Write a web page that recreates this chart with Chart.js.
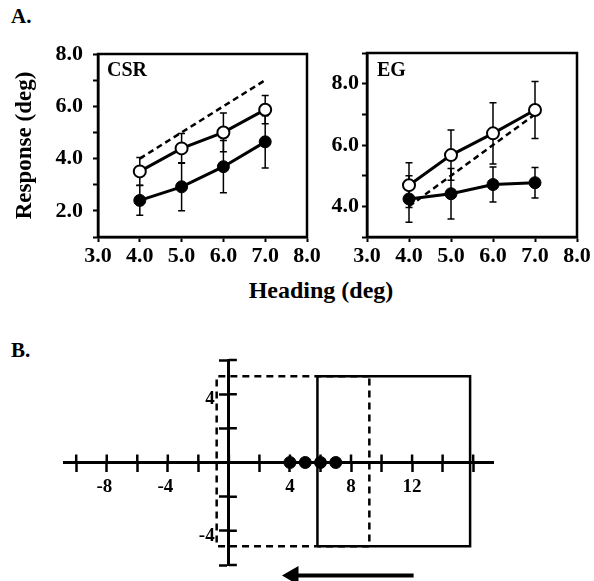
<!DOCTYPE html>
<html>
<head>
<meta charset="utf-8">
<script src="https://cdn.jsdelivr.net/npm/chart.js@4.4.0/dist/chart.umd.min.js"></script>
<style>
body{margin:0;background:#fff;}
#page{position:relative;width:594px;height:581px;overflow:hidden;font-family:"Liberation Serif",serif;font-weight:bold;color:#000;}
.lbl{position:absolute;line-height:1;white-space:nowrap;}
canvas{position:absolute;}
</style>
</head>
<body>
<div id="page">
  <div class="lbl" style="left:11px;top:6px;font-size:21px">A.</div>
  <div class="lbl" style="left:11px;top:340px;font-size:21px">B.</div>
  <div class="lbl" style="left:321px;top:278px;font-size:24px;transform:translateX(-50%)">Heading (deg)</div>
  <canvas id="csr" width="330" height="290" style="left:0;top:0"></canvas>
  <canvas id="eg" width="294" height="290" style="left:300px;top:0"></canvas>
  <canvas id="pathB" width="594" height="281" style="left:0;top:300px"></canvas>
</div>
<script>
// panel A data
const headings = [4, 5, 6, 7];
const csrOpen = [3.51, 4.39, 5.0, 5.87];
const csrOpenErr = [0.53, 0.57, 0.74, 0.54];
const csrFilled = [2.4, 2.92, 3.69, 4.64];
const csrFilledErr = [0.57, 0.92, 1.0, 1.0];
const egOpen = [4.69, 5.67, 6.38, 7.14];
const egOpenErr = [0.73, 0.82, 1.0, 0.93];
const egFilled = [4.24, 4.41, 4.71, 4.77];
const egFilledErr = [0.76, 0.82, 0.57, 0.5];
const ideal = [4, 5, 6, 7];
const csrTicksY = [2, 4, 6, 8];
const egTicksY = [4, 6, 8];

// panel B data
const bTicksX = [-8, -4, 4, 8, 12];
const bTicksY = [4, -4];
const dotX = [4, 5, 6, 7];
const dotY = [0, 0, 0, 0];
const solidRectX = [5.8, 5.8, 15.8, 15.8, 5.8];
const solidRectY = [-4.9, 5.05, 5.05, -4.9, -4.9];
const dashRectX = [9.2, -0.8, -0.8, 9.2, 9.2];
const dashRectY = [5.05, 5.05, -4.9, -4.9, 5.05];
const arrowX = [12.1, 4.2];
const arrowY = [-6.62, -6.62];

Chart.defaults.font.family = '"Liberation Serif", serif';
Chart.defaults.font.weight = 'bold';
Chart.defaults.color = '#000';

function pts(xs, ys){
    return xs.map((x, i) => ({x: x, y: ys[i]}));
}

const errorBars = {
    id: 'errorBars',
    beforeDatasetsDraw(chart){
        const ctx = chart.ctx, sx = chart.scales.x, sy = chart.scales.y;
        ctx.save();
        ctx.strokeStyle = '#000';
        ctx.lineWidth = 1.5;
        chart.data.datasets.forEach(ds => {
            if(!ds.errors) return;
            ds.data.forEach((p, i) => {
                const x = sx.getPixelForValue(p.x);
                const y1 = sy.getPixelForValue(p.y - ds.errors[i]);
                const y2 = sy.getPixelForValue(p.y + ds.errors[i]);
                ctx.beginPath();
                ctx.moveTo(x, y1); ctx.lineTo(x, y2);
                ctx.moveTo(x - 3.5, y1); ctx.lineTo(x + 3.5, y1);
                ctx.moveTo(x - 3.5, y2); ctx.lineTo(x + 3.5, y2);
                ctx.stroke();
            });
        });
        ctx.restore();
    }
};

const frame = {
    id: 'frame',
    afterDraw(chart, args, opts){
        const ctx = chart.ctx, a = chart.chartArea;
        ctx.save();
        ctx.lineWidth = 2.5;
        ctx.strokeStyle = '#000';
        ctx.strokeRect(a.left, a.top, a.right - a.left, a.bottom - a.top);
        ctx.font = 'bold 20px "Liberation Serif"';
        ctx.fillStyle = '#000';
        ctx.fillText(opts.name, a.left + opts.dx, a.top + opts.dy);
        ctx.restore();
    }
};

// panel B ticks cross the axes: draw the inner half
const crossTicks = {
    id: 'crossTicks',
    afterDraw(chart){
        const ctx = chart.ctx, sx = chart.scales.x, sy = chart.scales.y;
        const axisY = sy.getPixelForValue(0), axisX = sx.getPixelForValue(0);
        ctx.save();
        ctx.lineWidth = 2.5;
        ctx.strokeStyle = '#000';
        ctx.beginPath();
        sx.ticks.forEach(t => {
            const px = sx.getPixelForValue(t.value);
            ctx.moveTo(px, axisY); ctx.lineTo(px, axisY - 8);
        });
        sy.ticks.forEach(t => {
            const py = sy.getPixelForValue(t.value);
            ctx.moveTo(axisX, py); ctx.lineTo(axisX + 8, py);
        });
        ctx.stroke();
        ctx.restore();
    }
};

function responseChart(id, name, open, openErr, filled, filledErr, yMin, yMax, yLabels, opt){
    const grid = {drawOnChartArea: false, tickLength: 5, tickWidth: 2, tickColor: '#000'};
    const border = {color: '#000', width: 2.5};
    return new Chart(document.getElementById(id), {
        type: 'line',
        data: {
            datasets: [{
                data: pts(headings, open),
                errors: openErr,
                borderColor: '#000', borderWidth: 3,
                pointRadius: 6, pointBackgroundColor: '#fff', pointBorderColor: '#000', pointBorderWidth: 2
            }, {
                data: pts(headings, filled),
                errors: filledErr,
                borderColor: '#000', borderWidth: 3,
                pointRadius: 6, pointBackgroundColor: '#000', pointBorderColor: '#000', pointBorderWidth: 1
            }, {
                data: pts(headings, ideal),
                borderColor: '#000', borderWidth: 2.5, borderDash: [6, 4],
                pointRadius: 0
            }]
        },
        options: {
            responsive: false,
            animation: false,
            events: [],
            layout: {padding: opt.padding},
            plugins: {
                legend: {display: false},
                tooltip: {enabled: false},
                frame: {name: name, dx: opt.nameDx, dy: opt.nameDy}
            },
            scales: {
                x: {
                    type: 'linear', min: 3, max: 8,
                    afterFit: s => { s.height = opt.xHeight; },
                    ticks: {stepSize: 1, autoSkip: false, maxRotation: 0, padding: 1,
                        font: {size: 22}, callback: v => v.toFixed(1)},
                    grid: grid, border: border
                },
                y: {
                    min: yMin, max: yMax,
                    afterFit: s => { s.width = opt.yWidth; },
                    ticks: {stepSize: 1, autoSkip: false, padding: opt.yPad,
                        font: {size: 22}, callback: v => yLabels.includes(v) ? v.toFixed(1) : ''},
                    grid: grid, border: border,
                    title: opt.title ? {display: true, text: opt.title, color: '#000',
                        font: {size: 23, weight: 'bold'}, padding: {top: 11, bottom: 0}} : {display: false}
                }
            }
        },
        plugins: [errorBars, frame]
    });
}

responseChart('csr', 'CSR', csrOpen, csrOpenErr, csrFilled, csrFilledErr, 1, 8, csrTicksY, {
    padding: {left: 0, top: 54, right: 23, bottom: 0},
    xHeight: 53, yWidth: 98, yPad: 10, nameDx: 9, nameDy: 22, title: 'Response (deg)'
});
responseChart('eg', 'EG', egOpen, egOpenErr, egFilled, egFilledErr, 3, 9, egTicksY, {
    padding: {left: 0, top: 53, right: 17, bottom: 0},
    xHeight: 53, yWidth: 67, yPad: 3, nameDx: 10, nameDy: 23, title: null
});

// panel B
const bGrid = {drawOnChartArea: false, tickLength: 8, tickWidth: 2.5, tickColor: '#000'};
const bBorder = {color: '#000', width: 3};
new Chart(document.getElementById('pathB'), {
    type: 'scatter',
    data: {
        datasets: [{
            data: pts(dotX, dotY),
            pointRadius: 6, pointBackgroundColor: '#000', pointBorderColor: '#000'
        }, {
            data: pts(solidRectX, solidRectY),
            showLine: true, borderColor: '#000', borderWidth: 2.5, pointRadius: 0
        }, {
            data: pts(dashRectX, dashRectY),
            showLine: true, borderColor: '#000', borderWidth: 2.5, borderDash: [7, 5], pointRadius: 0
        }, {
            data: pts(arrowX, arrowY),
            showLine: true, borderColor: '#000', borderWidth: 4, clip: false,
            pointRadius: [0, 7], pointStyle: 'triangle', pointRotation: -90,
            pointBackgroundColor: '#000', pointBorderColor: '#000'
        }]
    },
    options: {
        responsive: false,
        animation: false,
        events: [],
        layout: {padding: {left: 64, right: 101, top: 60, bottom: 16}},
        plugins: {legend: {display: false}, tooltip: {enabled: false}},
        scales: {
            x: {
                type: 'linear', min: -10.8, max: 17.3, position: {y: 0},
                ticks: {stepSize: 2, includeBounds: false, autoSkip: false, maxRotation: 0, padding: 5,
                    font: {size: 19}, callback: v => bTicksX.includes(v) ? (v < 0 ? v + ' ' : String(v)) : ''},
                grid: bGrid, border: bBorder
            },
            y: {
                min: -6, max: 6, position: {x: 0},
                // labels sit right-aligned on a centred axis, so pad them off the line
                ticks: {stepSize: 2, autoSkip: false, labelOffset: 5,
                    font: {size: 19}, callback: v => bTicksY.includes(v) ? v + '   ' : ''},
                grid: bGrid, border: bBorder
            }
        }
    },
    plugins: [crossTicks]
});
</script>
</body>
</html>
